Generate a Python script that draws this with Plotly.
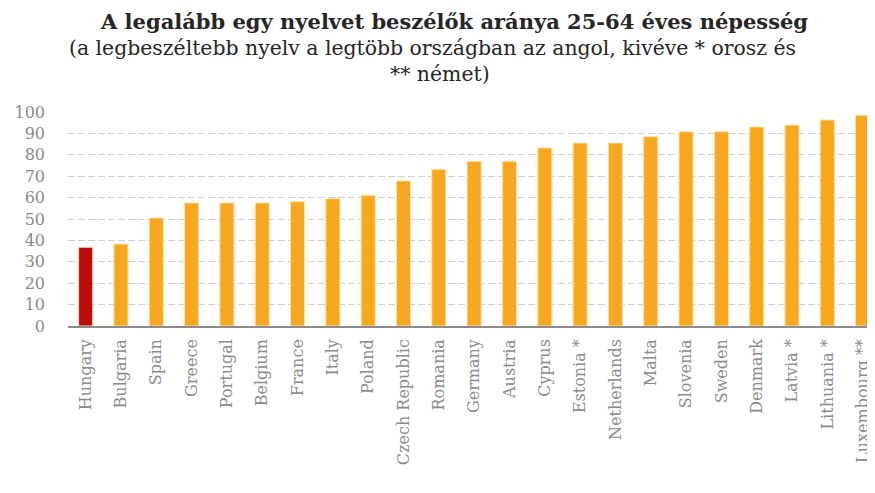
import plotly.graph_objects as go

countries = ["Hungary", "Bulgaria", "Spain", "Greece", "Portugal", "Belgium", "France",
             "Italy", "Poland", "Czech Republic", "Romania", "Germany", "Austria", "Cyprus",
             "Estonia *", "Netherlands", "Malta", "Slovenia", "Sweden", "Denmark",
             "Latvia *", "Lithuania *", "Luxembourg **"]
values = [36.8, 38.3, 50.5, 57.5, 57.5, 57.5, 58.1, 59.5, 61.1, 67.8, 73.2, 77.0, 77.0,
          83.2, 85.5, 85.5, 88.5, 90.8, 90.8, 93.0, 93.9, 96.3, 98.5]
highlight = "Hungary"
y_ticks = list(range(0, 101, 10))

colors = ["#C00B0B" if c == highlight else "#F8A81F" for c in countries]

# page body has an 8px margin, so figure coords = window coords - 8;
# figure sized to fit inside the window to avoid scrollbars
W, H = 867, 485
L, R, T, B = 60, 0, 104, 167

fig = go.Figure(go.Bar(
    x=countries, y=values, marker=dict(color=colors, line=dict(color="#FCE3B4", width=1)),
    width=0.4,
))

def px_to_paper_x(px):
    return (px - 8 - L) / (W - L - R)

def px_to_paper_y(py):
    return (H - B - (py - 8)) / (H - T - B)

annos = [
    dict(text="<b>A legalább egy nyelvet beszélők aránya 25-64 éves népesség</b>",
         x=px_to_paper_x(454), y=px_to_paper_y(21), font=dict(size=21, color="#262626",
         family="DejaVu Serif")),
    dict(text="(a legbeszéltebb nyelv a legtöbb országban az angol, kivéve * orosz és",
         x=px_to_paper_x(432), y=px_to_paper_y(48), font=dict(size=20.4, color="#262626",
         family="DejaVu Serif")),
    dict(text="** német)",
         x=px_to_paper_x(440), y=px_to_paper_y(74), font=dict(size=20.4, color="#262626",
         family="DejaVu Serif")),
]
for a in annos:
    a.update(xref="paper", yref="paper", showarrow=False, xanchor="center", yanchor="middle")

fig.update_layout(
    width=W, height=H,
    margin=dict(l=L, r=R, t=T, b=B),
    plot_bgcolor="white", paper_bgcolor="white",
    showlegend=False,
    annotations=annos,
    xaxis=dict(
        range=[-0.5, 22.35], tickangle=-90, showgrid=False,
        showline=True, linecolor="#8C8C8C", linewidth=1.5,
        ticks="", ticklabelstandoff=5,
        tickfont=dict(family="DejaVu Serif", size=16, color="#8C8C8C"),
    ),
    yaxis=dict(
        range=[0, 100], tickvals=y_ticks, ticktext=[str(v) for v in y_ticks],
        showgrid=True, gridcolor="#D0D0D0", griddash="7px,3px", gridwidth=1.3,
        zeroline=False, ticks="", ticklabelstandoff=22,
        tickfont=dict(family="DejaVu Serif", size=16, color="#8A8A8A"),
    ),
)

fig.write_html("out.html")
